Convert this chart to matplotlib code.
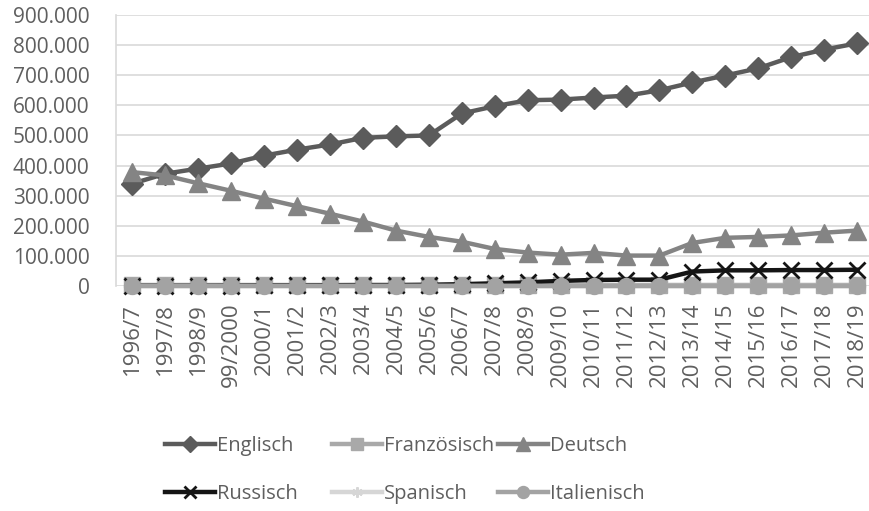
import matplotlib
matplotlib.use('Agg')
import matplotlib.pyplot as plt
from matplotlib.ticker import FuncFormatter
import numpy as np

years = ['1996/7', '1997/8', '1998/9', '99/2000', '2000/1', '2001/2', '2002/3', '2003/4',
         '2004/5', '2005/6', '2006/7', '2007/8', '2008/9', '2009/10', '2010/11', '2011/12',
         '2012/13', '2013/14', '2014/15', '2015/16', '2016/17', '2017/18', '2018/19']

englisch = [340000, 373000, 390000, 407000, 433000, 453000, 470000, 492000, 497000, 500000,
            573000, 597000, 617000, 619000, 626000, 632000, 650000, 676000, 699000, 723000,
            760000, 785000, 806000]
franzoesisch = [2000, 2000, 2000, 2000, 2000, 2000, 2000, 2000, 2000, 2000, 2000, 2000,
                2000, 2000, 2000, 2000, 2000, 2000, 2000, 2000, 2000, 2000, 2000]
deutsch = [378000, 367000, 341000, 316000, 290000, 265000, 240000, 214000, 184000, 163000,
           147000, 123000, 111000, 104000, 110000, 101000, 101000, 143000, 160000, 163000,
           168000, 177000, 184000]
russisch = [1000, 1000, 1000, 1500, 2000, 2000, 2500, 3000, 3000, 4000, 6000, 9000, 12000,
            17000, 20000, 21000, 21000, 48000, 52000, 52000, 53000, 53000, 54000]
spanisch = [500, 500, 500, 500, 500, 500, 500, 500, 500, 500, 500, 500, 500, 500, 500,
            500, 500, 500, 500, 500, 500, 500, 500]
italienisch = [1000, 1000, 1000, 1000, 1000, 1000, 1000, 1000, 1000, 1000, 1000, 1000,
               1000, 1000, 1000, 1000, 1000, 1000, 1000, 1000, 1000, 1000, 1000]

plt.rcParams['font.family'] = ['Open Sans', 'DejaVu Sans']
textColor = '#5f5f5f'

fig = plt.figure(figsize=(8.7, 5.11), dpi=100)
ax = fig.add_axes([116 / 870, 1 - 286 / 511, (873.5 - 116) / 870, (286 - 15) / 511])

x = np.arange(len(years))
lw = 3.2
lines = []
lines += ax.plot(x, englisch, color='#5b5b5b', lw=lw, marker='D', ms=11.5, label='Englisch')
lines += ax.plot(x, franzoesisch, color='#a9a9a9', lw=lw, marker='s', ms=12, label='Französisch')
lines += ax.plot(x, deutsch, color='#848484', lw=lw, marker='^', ms=13, label='Deutsch')
lines += ax.plot(x, russisch, color='#151515', lw=lw, marker='x', ms=11, mew=2,
                 label='Russisch')
lines += ax.plot(x, spanisch, color='#d6d6d6', lw=lw, marker=(6, 2, 0), ms=10, mew=1.5,
                 label='Spanisch')
lines += ax.plot(x, italienisch, color='#a3a3a3', lw=lw, marker='o', ms=11.5, label='Italienisch')

for l in lines:
    l.set_clip_on(False)

ax.set_xlim(-0.5, len(years) - 0.5)
ax.set_ylim(0, 900000)
ax.set_yticks(np.arange(0, 900001, 100000))
ax.yaxis.set_major_formatter(FuncFormatter(lambda v, p: '{:,.0f}'.format(v).replace(',', '.')))
ax.set_xticks(x)
ax.set_xticklabels(years, rotation=90, va='top', ha='center')

ax.grid(axis='y', color='#d9d9d9', lw=1.2)
ax.set_axisbelow(True)
for s in ['top', 'right', 'bottom']:
    ax.spines[s].set_visible(False)
ax.spines['left'].set_color('#d9d9d9')
ax.spines['left'].set_linewidth(1.2)
ax.tick_params(axis='y', length=0, pad=19, labelsize=15, labelcolor=textColor)
ax.tick_params(axis='x', length=0, pad=12, labelsize=16, labelcolor=textColor)

colStarts = [165, 332, 498]
for c in range(3):
    leg = fig.legend(handles=[lines[c], lines[c + 3]], loc='center left',
                     bbox_to_anchor=(colStarts[c] / 870, 1 - 470 / 511), frameon=False,
                     fontsize=14.5, borderpad=0, borderaxespad=0, handlelength=2.5,
                     handletextpad=0.1, labelspacing=1.4, markerscale=0.75)
    for t in leg.get_texts():
        t.set_color(textColor)

fig.savefig('out.png', dpi=100)
